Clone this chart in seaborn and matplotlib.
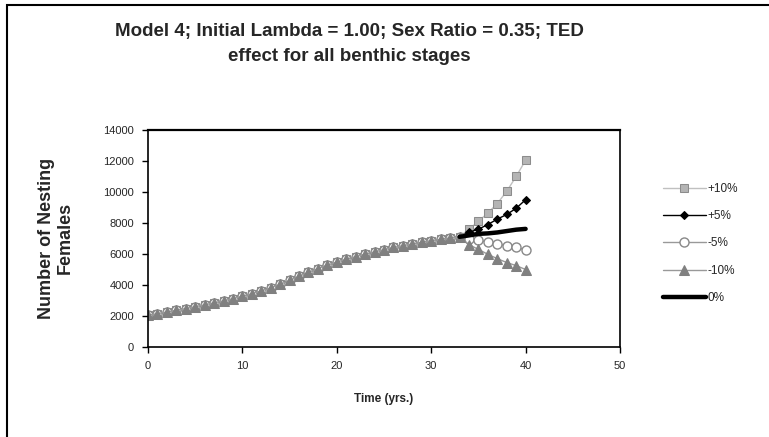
import matplotlib
matplotlib.use("Agg")
import matplotlib.pyplot as plt
import seaborn as sns
import pandas as pd

# Data
years = list(range(0, 41))
# common trajectory, years 0-33
base = [2050, 2150, 2260, 2370, 2480, 2600, 2720, 2850, 2980, 3120,
        3270, 3440, 3620, 3820, 4040, 4300, 4560, 4820, 5060, 5280,
        5480, 5660, 5830, 5990, 6140, 6280, 6420, 6540, 6650, 6760,
        6860, 6950, 7040, 7110]
# years 34-40 for each scenario
tail_p10 = [7600, 8100, 8650, 9250, 10050, 11000, 12050]
tail_p5 = [7400, 7600, 7900, 8250, 8550, 8950, 9500]
tail_m5 = [6980, 6880, 6780, 6650, 6540, 6450, 6250]
tail_m10 = [6600, 6300, 5980, 5700, 5450, 5250, 5000]
tail_0 = [7200, 7300, 7330, 7390, 7480, 7570, 7620]

labels = ['+10%', '+5%', '-5%', '-10%', '0%']
title = 'Model 4; Initial Lambda = 1.00; Sex Ratio = 0.35; TED\neffect for all benthic stages'

df = pd.DataFrame({
    'year': years,
    '+10%': base + tail_p10,
    '+5%': base + tail_p5,
    '-5%': base + tail_m5,
    '-10%': base + tail_m10,
})
df0 = pd.DataFrame({'year': years[33:], '0%': base[33:] + tail_0})

sns.set_style('white')
plt.rcParams['font.family'] = ['Liberation Sans', 'DejaVu Sans']

fig = plt.figure(figsize=(7.69, 4.37), dpi=100)
ax = fig.add_axes([148 / 769, 1 - 347 / 437, 472 / 769, 217 / 437])

styles = {
    '+10%': dict(color='#c0c0c0', marker='s', markersize=5.5, markerfacecolor='#b4b4b4',
                 markeredgecolor='#8c8c8c', linewidth=1),
    '+5%': dict(color='black', marker='D', markersize=4.5, markerfacecolor='black',
                markeredgecolor='black', linewidth=1),
    '-5%': dict(color='#999999', marker='o', markersize=6.5, markerfacecolor='white',
                markeredgecolor='#888888', markeredgewidth=1, linewidth=1),
    '-10%': dict(color='#999999', marker='^', markersize=6.5, markerfacecolor='#808080',
                 markeredgecolor='#808080', linewidth=1),
}
for lab in labels[:4]:
    sns.lineplot(data=df, x='year', y=lab, ax=ax, label=lab, **styles[lab])
sns.lineplot(data=df0, x='year', y='0%', ax=ax, label='0%', color='black', linewidth=3.2)

ax.set_xlim(0, 50)
ax.set_ylim(0, 14000)
ax.set_xticks(range(0, 51, 10))
ax.set_yticks(range(0, 14001, 2000))
ax.tick_params(axis='both', direction='out', length=4, width=1, labelsize=8,
               bottom=True, left=True, color='black', pad=6)
for s in ax.spines.values():
    s.set_color('black')
    s.set_linewidth(1.2)
ax.spines['top'].set_linewidth(1.6)

ax.set_xlabel('Time (yrs.)', fontsize=8.5, fontweight='bold', labelpad=16)
ax.set_ylabel('')
fig.text(56 / 769, 1 - 238 / 437, 'Number of Nesting\nFemales', rotation=90,
         ha='center', va='center', fontsize=13, fontweight='bold', linespacing=1.15)

fig.text(349 / 769, 1 - 44 / 437, title, ha='center', va='center',
         fontsize=13.5, fontweight='bold', linespacing=1.6)

ax.legend(loc='upper left', bbox_to_anchor=(663 / 769, 1 - 183 / 437),
          bbox_transform=fig.transFigure, frameon=False, fontsize=8.5,
          handlelength=3.6, handletextpad=0.15, labelspacing=1.29, borderpad=0,
          borderaxespad=0)

# chart area border
fig.patches.append(plt.Rectangle((7 / 769, -0.05), 1.1, 1 - 5 / 437 + 0.05,
                                 transform=fig.transFigure, fill=False,
                                 edgecolor='black', linewidth=1.5, clip_on=False))

fig.savefig('out.png', dpi=100)
